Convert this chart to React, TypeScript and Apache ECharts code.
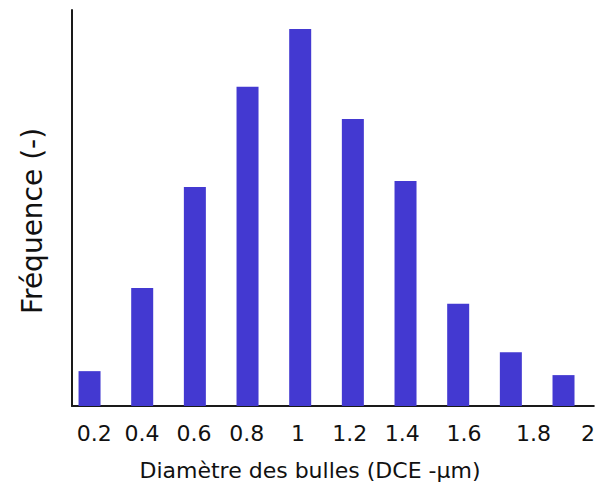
import React, { useEffect, useRef } from "react";
import * as echarts from "echarts";

// Bin centres (diameter, µm) and relative frequency (%)
const diameters = [0.2, 0.4, 0.6, 0.8, 1.0, 1.2, 1.4, 1.6, 1.8, 2.0];
const frequencies = [8.8, 29.8, 55.3, 80.6, 95.2, 72.5, 56.8, 25.8, 13.6, 7.8];

// Tick label texts and where they sit along the diameter axis in the picture
const tickLabels = ["0.2", "0.4", "0.6", "0.8", "1", "1.2", "1.4", "1.6", "1.8", "2"];
const tickLabelAt = [0.218, 0.399, 0.597, 0.797, 0.992, 1.188, 1.388, 1.622, 1.886, 2.093];

const X_MIN = 0.1334;
const X_MAX = 2.115;

export default function App() {
  const ref = useRef<HTMLDivElement>(null);
  useEffect(() => {
    if (!ref.current) return;
    const chart = echarts.init(ref.current, null, { renderer: "svg" });
    const font = "'DejaVu Sans', sans-serif";
    chart.setOption({
      animation: false,
      backgroundColor: "#ffffff",
      grid: { left: 72, right: 0, top: 10, bottom: 78, containLabel: false },
      xAxis: [
        {
          type: "value",
          min: X_MIN,
          max: X_MAX,
          axisLine: { show: true, onZero: false, lineStyle: { color: "#1a1a1a", width: 2 } },
          axisTick: { show: false },
          axisLabel: { show: false },
          splitLine: { show: false },
        },
        {
          type: "value",
          position: "bottom",
          min: X_MIN,
          max: X_MAX,
          axisLine: { show: false },
          axisTick: { show: false },
          splitLine: { show: false },
          axisLabel: {
            show: true,
            customValues: tickLabelAt,
            margin: 16,
            color: "#111",
            fontFamily: font,
            fontSize: 22,
            showMinLabel: true,
            showMaxLabel: true,
            hideOverlap: false,
            formatter: (v: number) => {
              let best = 0;
              for (let i = 1; i < tickLabelAt.length; i++) {
                if (Math.abs(tickLabelAt[i] - v) < Math.abs(tickLabelAt[best] - v)) best = i;
              }
              return tickLabels[best];
            },
          },
        },
      ],
      yAxis: {
        type: "value",
        min: 0,
        max: 100,
        axisLine: { show: true, lineStyle: { color: "#1a1a1a", width: 2 } },
        axisTick: { show: false },
        axisLabel: { show: false },
        splitLine: { show: false },
      },
      graphic: [
        {
          type: "text",
          x: 310,
          y: 470,
          style: {
            text: "Diamètre des bulles (DCE -µm)",
            fill: "#111",
            font: `22px ${font}`,
            textAlign: "center",
            textVerticalAlign: "middle",
          },
        },
        {
          type: "text",
          x: 32,
          y: 221,
          rotation: Math.PI / 2,
          style: {
            text: "Fréquence (-)",
            fill: "#111",
            font: `28px ${font}`,
            textAlign: "center",
            textVerticalAlign: "middle",
          },
        },
      ],
      series: [
        {
          type: "bar",
          xAxisIndex: 0,
          barWidth: 22,
          itemStyle: { color: "#4339D1" },
          data: diameters.map((d, i) => [d, frequencies[i]]),
        },
      ],
    });
    return () => chart.dispose();
  }, []);
  return (
    <div
      ref={ref}
      style={{ position: "fixed", left: 0, top: 0, width: 598, height: 484 }}
    />
  );
}
